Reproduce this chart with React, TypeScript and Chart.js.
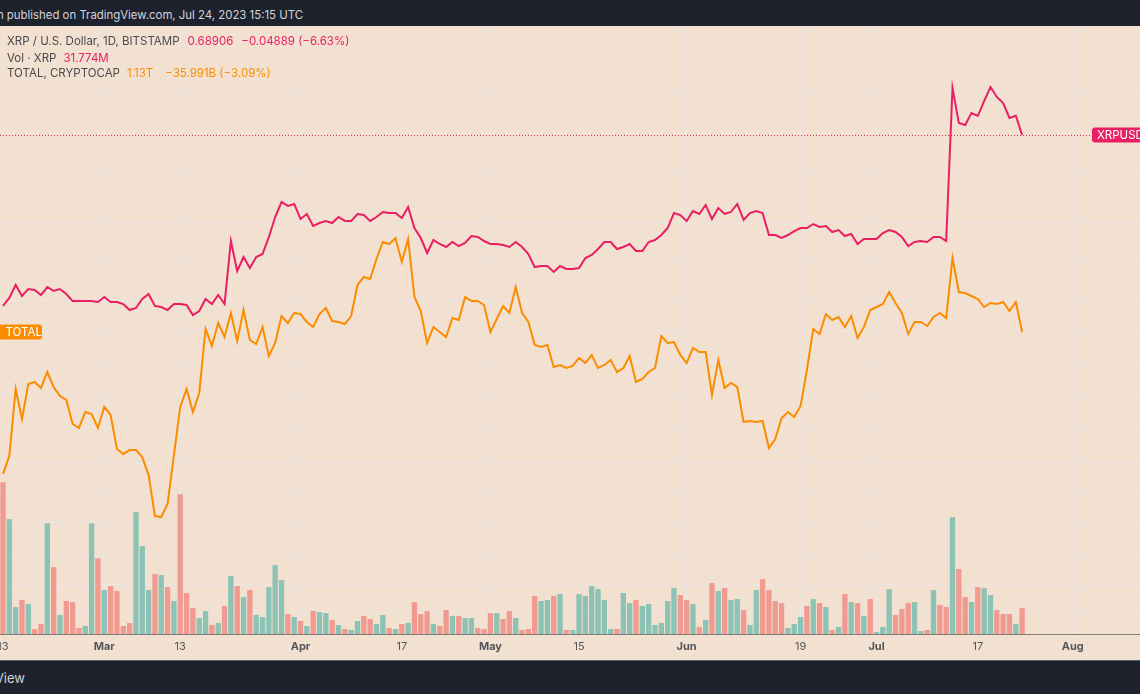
import React, { useEffect, useRef } from "react";
import { Chart, registerables } from "chart.js";

Chart.register(...registerables);

// Daily closes from 2023-02-13 (day 0) to 2023-07-24 (day 161)
const XRP_CLOSE = [
  0.3742, 0.3850, 0.4033, 0.3877, 0.3975, 0.3961, 0.3891, 0.4004, 0.3948, 0.3975,
  0.3905, 0.3808, 0.3808, 0.3808, 0.3808, 0.3795, 0.3863, 0.3795, 0.3795, 0.3768,
  0.3688, 0.3715, 0.3836, 0.3905, 0.3742, 0.3728, 0.3688, 0.3768, 0.3768, 0.3755,
  0.3623, 0.3675, 0.3836, 0.3768, 0.3891, 0.3768, 0.4719, 0.4240, 0.4457, 0.4285,
  0.4457, 0.4505, 0.4787, 0.5141, 0.5424, 0.5348, 0.5386, 0.5105, 0.5197, 0.4979,
  0.5032, 0.5069, 0.5032, 0.5141, 0.5069, 0.5069, 0.5197, 0.5178, 0.5069, 0.5141,
  0.5234, 0.5215, 0.5215, 0.5123, 0.5329, 0.4943, 0.4770, 0.4521, 0.4736, 0.4669,
  0.4619, 0.4702, 0.4635, 0.4686, 0.4804, 0.4787, 0.4719, 0.4669, 0.4669, 0.4652,
  0.4619, 0.4702, 0.4619, 0.4505, 0.4300, 0.4316, 0.4316, 0.4225, 0.4316, 0.4270,
  0.4270, 0.4285, 0.4441, 0.4489, 0.4586, 0.4702, 0.4702, 0.4586, 0.4619, 0.4669,
  0.4553, 0.4553, 0.4702, 0.4736, 0.4821, 0.4943, 0.5215, 0.5178, 0.5069, 0.5253,
  0.5197, 0.5366, 0.5105, 0.5309, 0.5197, 0.5234, 0.5386, 0.5087, 0.5215, 0.5253,
  0.5215, 0.4821, 0.4821, 0.4770, 0.4821, 0.4890, 0.4943, 0.4943, 0.5014, 0.4961,
  0.4979, 0.4873, 0.4908, 0.4804, 0.4839, 0.4669, 0.4753, 0.4753, 0.4753, 0.4856,
  0.4908, 0.4873, 0.4787, 0.4635, 0.4702, 0.4719, 0.4702, 0.4787, 0.4787, 0.4719,
  0.8150, 0.7192, 0.7141, 0.7454, 0.7374, 0.7780, 0.8179, 0.7893, 0.7725, 0.7322,
  0.73795, 0.68906,
];

// Total crypto market cap, trillions USD
const TOTAL_CAP = [
  0.9595, 0.9811, 1.0616, 1.0256, 1.0676, 1.0700, 1.0628, 1.0820, 1.0640, 1.0532,
  1.0484, 1.0196, 1.0148, 1.0340, 1.0316, 1.0148, 1.0400, 1.0304, 0.9895, 0.9835,
  0.9883, 0.9883, 0.9799, 0.9583, 0.9091, 0.9079, 0.9235, 0.9823, 1.0400, 1.0616,
  1.0340, 1.0568, 1.1336, 1.1132, 1.1408, 1.1240, 1.1528, 1.1192, 1.1564, 1.1204,
  1.1156, 1.1360, 1.1012, 1.1168, 1.1492, 1.1408, 1.1528, 1.1516, 1.1420, 1.1360,
  1.1516, 1.1588, 1.1432, 1.1420, 1.1396, 1.1492, 1.1864, 1.1960, 1.1936, 1.2176,
  1.2380, 1.2356, 1.2428, 1.2140, 1.2416, 1.1720, 1.1552, 1.1168, 1.1360, 1.1300,
  1.1240, 1.1468, 1.1444, 1.1720, 1.1672, 1.1672, 1.1624, 1.1300, 1.1456, 1.1612,
  1.1528, 1.1840, 1.1528, 1.1420, 1.1144, 1.1120, 1.1144, 1.0880, 1.0904, 1.0868,
  1.0892, 1.0988, 1.0928, 1.1024, 1.0868, 1.0904, 1.0964, 1.0820, 1.0868, 1.1012,
  1.0700, 1.0736, 1.0820, 1.0868, 1.1252, 1.1168, 1.1180, 1.1024, 1.0928, 1.1108,
  1.1060, 1.1060, 1.0544, 1.0964, 1.0628, 1.0688, 1.0640, 1.0220, 1.0232, 1.0220,
  1.0232, 0.9907, 1.0015, 1.0268, 1.0340, 1.0280, 1.0412, 1.0844, 1.1336, 1.1276,
  1.1516, 1.1444, 1.1480, 1.1360, 1.1492, 1.1228, 1.1360, 1.1564, 1.1600, 1.1636,
  1.1780, 1.1648, 1.1528, 1.1276, 1.1420, 1.1420, 1.1372, 1.1480, 1.1528, 1.1468,
  1.2188, 1.1780, 1.1768, 1.1732, 1.1696, 1.1600, 1.1648, 1.1636, 1.1660, 1.1552,
  1.1660, 1.1300,
];

// XRP volume, millions
const XRP_VOLUME = [
  185.4, 140.3, 32.9, 41.5, 36.6, 6.1, 12.2, 135.4, 81.7, 23.2,
  40.3, 39.0, 7.3, 9.8, 135.4, 92.7, 53.7, 58.6, 52.5, 9.8,
  13.4, 148.8, 107.4, 53.7, 73.2, 72.0, 57.3, 40.3, 170.8, 50.0,
  31.7, 19.5, 28.1, 11.0, 13.4, 34.2, 70.8, 58.6, 45.1, 53.7,
  23.2, 20.7, 57.3, 84.2, 65.9, 24.4, 20.7, 15.9, 9.8, 28.1,
  26.8, 25.6, 17.1, 11.0, 6.1, 4.9, 15.9, 22.0, 18.3, 12.2,
  23.2, 7.3, 6.1, 12.2, 13.4, 39.0, 24.4, 28.1, 12.2, 9.8,
  29.3, 22.0, 22.0, 19.5, 19.5, 7.3, 6.1, 25.6, 25.6, 18.3,
  28.1, 19.5, 4.9, 6.1, 46.4, 40.3, 41.5, 46.4, 48.8, 4.9,
  4.9, 48.8, 46.4, 58.6, 54.9, 41.5, 6.1, 6.1, 50.0, 37.8,
  41.5, 34.2, 36.6, 11.0, 13.4, 40.3, 56.1, 47.6, 41.5, 36.6,
  8.5, 17.1, 62.2, 52.5, 56.1, 41.5, 42.7, 29.3, 11.0, 53.7,
  67.1, 53.7, 40.3, 37.8, 7.3, 12.2, 20.7, 34.2, 42.7, 37.8,
  32.9, 4.9, 8.5, 48.8, 39.0, 37.8, 22.0, 42.7, 2.4, 8.5,
  54.9, 23.2, 30.5, 37.8, 39.0, 3.7, 4.9, 53.7, 35.4, 32.9,
  142.7, 79.3, 45.1, 39.0, 57.3, 56.1, 47.6, 29.3, 24.4, 24.4,
  12.2, 31.774,
];

// 1 = up day (green volume bar), 0 = down day (red)
const VOLUME_UP = [
  0, 1, 1, 0, 1, 0, 0, 1, 0, 1,
  0, 0, 0, 1, 1, 0, 1, 0, 0, 0,
  0, 1, 1, 1, 0, 1, 0, 1, 0, 0,
  0, 1, 1, 0, 1, 0, 1, 0, 1, 0,
  1, 1, 1, 1, 1, 0, 1, 0, 1, 0,
  1, 1, 0, 1, 0, 1, 1, 0, 0, 1,
  1, 0, 1, 0, 1, 0, 0, 0, 1, 0,
  0, 1, 0, 1, 1, 0, 0, 0, 1, 0,
  0, 1, 0, 0, 0, 1, 1, 0, 1, 0,
  1, 1, 1, 1, 1, 1, 1, 0, 1, 1,
  0, 1, 1, 1, 1, 1, 1, 0, 0, 1,
  0, 1, 0, 1, 0, 1, 1, 0, 1, 1,
  0, 0, 0, 0, 1, 1, 1, 0, 1, 0,
  1, 0, 1, 0, 1, 0, 1, 0, 1, 1,
  1, 0, 0, 0, 1, 1, 0, 1, 0, 0,
  1, 0, 0, 1, 0, 1, 1, 0, 0, 0,
  1, 0,
];

// x-axis ticks (day index from 2023-02-13) and their labels
const TICK_DAYS = [0, 16, 28, 47, 63, 77, 91, 108, 126, 138, 154, 169];
const TICK_LABELS = ["13", "Mar", "13", "Apr", "17", "May", "15", "Jun", "19", "Jul", "17", "Aug"];
const MONTH_LABELS = ["Mar", "Apr", "May", "Jun", "Jul", "Aug"];

// horizontal grid levels (on the TOTAL scale, trillions)
const GRID_LEVELS = [1.4157, 1.3197, 1.2597, 1.2164, 1.1684, 1.1312, 1.0928, 1.0556, 1.016, 0.9727, 0.9367, 0.9019, 0.8599, 0.8275, 0.7939];

const FONT = "Inter, 'Noto Sans', 'DejaVu Sans', sans-serif";
const BG = "#F2E1D1";
const DARK = "#1E222D";
const XRP_COLOR = "#E91E63";
const TOTAL_COLOR = "#FB8C00";
const UP_COLOR = "rgba(38,166,154,0.5)";
const DOWN_COLOR = "rgba(239,83,80,0.5)";
const GRID_COLOR = "rgba(232,232,236,0.6)";

const overlayPlugin = {
  id: "priceOverlay",
  beforeDatasetsDraw(chart: any) {
    const { ctx, chartArea, scales } = chart;
    const y = Math.round(scales.yXrp.getPixelForValue(XRP_CLOSE[XRP_CLOSE.length - 1])) + 0.5;
    ctx.save();
    ctx.strokeStyle = XRP_COLOR;
    ctx.lineWidth = 1;
    ctx.setLineDash([1, 2]);
    ctx.beginPath();
    ctx.moveTo(chartArea.left, y);
    ctx.lineTo(chartArea.right - 48, y);
    ctx.stroke();
    ctx.restore();
  },
  afterDatasetsDraw(chart: any) {
    const { ctx, chartArea, scales } = chart;
    ctx.save();
    ctx.font = `11.5px ${FONT}`;
    ctx.textBaseline = "middle";
    // XRPUSD label (right)
    const yX = scales.yXrp.getPixelForValue(XRP_CLOSE[XRP_CLOSE.length - 1]);
    const tx = "XRPUSD";
    const bx = chartArea.right - 48;
    ctx.fillStyle = XRP_COLOR;
    ctx.beginPath();
    ctx.roundRect(bx, yX - 7.5, 60, 15, 3);
    ctx.fill();
    ctx.fillStyle = "#FFFFFF";
    ctx.textAlign = "left";
    ctx.fillText(tx, bx + 5, yX + 0.5);
    // TOTAL label (left)
    const yT = scales.yTotal.getPixelForValue(TOTAL_CAP[TOTAL_CAP.length - 1]);
    const tt = "TOTAL";
    ctx.fillStyle = TOTAL_COLOR;
    ctx.beginPath();
    ctx.roundRect(chartArea.left - 4, yT - 7.5, 46, 15, 3);
    ctx.fill();
    ctx.fillStyle = "#FFFFFF";
    ctx.fillText(tt, chartArea.left + 5.5, yT + 0.5);
    ctx.restore();
  },
};

export default function App() {
  const canvasRef = useRef<HTMLCanvasElement | null>(null);

  useEffect(() => {
    const canvas = canvasRef.current;
    if (!canvas) return;
    const days = XRP_CLOSE.map((_, i) => i);
    const chart = new Chart(canvas, {
      type: "line",
      data: {
        datasets: [
          {
            type: "line",
            label: "XRPUSD",
            data: days.map((i) => ({ x: i, y: XRP_CLOSE[i] })),
            yAxisID: "yXrp",
            xAxisID: "x",
            borderColor: XRP_COLOR,
            borderWidth: 2,
            pointRadius: 0,
            tension: 0,
            order: 1,
          },
          {
            type: "line",
            label: "TOTAL",
            data: days.map((i) => ({ x: i, y: TOTAL_CAP[i] })),
            yAxisID: "yTotal",
            xAxisID: "x",
            borderColor: TOTAL_COLOR,
            borderWidth: 2,
            pointRadius: 0,
            tension: 0,
            order: 2,
          },
          {
            type: "bar",
            label: "Vol",
            data: days.map((i) => ({ x: i, y: XRP_VOLUME[i] })),
            yAxisID: "yVol",
            xAxisID: "x",
            backgroundColor: days.map((i) => (VOLUME_UP[i] ? UP_COLOR : DOWN_COLOR)),
            borderWidth: 0,
            barPercentage: 0.84,
            categoryPercentage: 1,
            order: 3,
          },
        ],
      } as any,
      options: {
        responsive: false,
        maintainAspectRatio: false,
        animation: false,
        events: [],
        layout: { padding: 0 },
        plugins: { legend: { display: false }, tooltip: { enabled: false } },
        scales: {
          x: {
            type: "linear",
            position: "bottom",
            min: -0.474,
            max: 179.62,
            offset: false,
            grid: { color: GRID_COLOR, drawTicks: false, offset: false },
            border: { display: true, color: "#7E7B78", width: 1 },
            ticks: {
              autoSkip: false,
              maxRotation: 0,
              minRotation: 0,
              padding: 6,
              color: "#55565B",
              font: (c: any) => {
                const idx = TICK_DAYS.indexOf(c.tick ? c.tick.value : -1);
                const lbl = idx >= 0 ? TICK_LABELS[idx] : "";
                return { family: FONT, size: 11, weight: MONTH_LABELS.includes(lbl) ? "bold" : "normal" };
              },
              callback: (v: any) => {
                const idx = TICK_DAYS.indexOf(Number(v));
                return idx >= 0 ? TICK_LABELS[idx] : "";
              },
            },
            afterBuildTicks: (s: any) => {
              s.ticks = TICK_DAYS.map((v) => ({ value: v }));
            },
            afterFit: (s: any) => {
              s.height = 26;
              s.paddingLeft = 0;
              s.paddingRight = 0;
            },
          },
          yTotal: {
            type: "linear",
            position: "left",
            min: 0.7675,
            max: 1.4973,
            grid: { color: GRID_COLOR, drawTicks: false },
            border: { display: false },
            ticks: { display: false },
            afterBuildTicks: (s: any) => {
              s.ticks = GRID_LEVELS.map((v) => ({ value: v }));
            },
            afterFit: (s: any) => {
              s.width = 0;
            },
          },
          yXrp: {
            type: "logarithmic",
            display: false,
            min: 0.11596,
            max: 1.017,
          },
          yVol: {
            type: "linear",
            display: false,
            min: 0,
            max: 743,
          },
        },
      } as any,
      plugins: [overlayPlugin],
    });
    return () => chart.destroy();
  }, []);

  const legendLine: React.CSSProperties = {
    position: "absolute",
    left: 7,
    fontSize: 11.5,
    lineHeight: "14px",
    color: "#4A4A4F",
    whiteSpace: "nowrap",
  };

  return (
    <div
      style={{
        position: "fixed",
        left: 0,
        top: 0,
        width: 1140,
        height: 694,
        background: BG,
        overflow: "hidden",
        fontFamily: FONT,
      }}
    >
      <div
        style={{
          position: "absolute",
          left: 0,
          top: 0,
          width: 1140,
          height: 26,
          background: DARK,
        }}
      >
        <div
          style={{
            position: "absolute",
            right: 1140 - 303,
            top: 0,
            lineHeight: "30px",
            fontSize: 11.4,
            color: "#D1D4DC",
            whiteSpace: "nowrap",
          }}
        >
          n published on TradingView.com, Jul 24, 2023 15:15 UTC
        </div>
      </div>
      <canvas
        ref={canvasRef}
        width={1140}
        height={634}
        style={{ position: "absolute", left: 0, top: 26, width: 1140, height: 634 }}
      />
      <div style={{ ...legendLine, top: 34 }}>
        XRP / U.S. Dollar, 1D, BITSTAMP
        <span style={{ color: XRP_COLOR, marginLeft: 8 }}>0.68906</span>
        <span style={{ color: XRP_COLOR, marginLeft: 8 }}>−0.04889 (−6.63%)</span>
      </div>
      <div style={{ ...legendLine, top: 51 }}>
        Vol · XRP
        <span style={{ color: XRP_COLOR, marginLeft: 7 }}>31.774M</span>
      </div>
      <div style={{ ...legendLine, top: 66 }}>
        TOTAL, CRYPTOCAP
        <span style={{ color: TOTAL_COLOR, marginLeft: 7 }}>1.13T</span>
        <span style={{ color: TOTAL_COLOR, marginLeft: 12 }}>−35.991B (−3.09%)</span>
      </div>
      <div
        style={{
          position: "absolute",
          left: 0,
          top: 660,
          width: 1140,
          height: 34,
          background: DARK,
          borderTop: "1px solid #5A5D66",
          boxSizing: "border-box",
        }}
      >
        <div
          style={{
            position: "absolute",
            right: 1140 - 25,
            top: 0,
            lineHeight: "34px",
            fontSize: 13,
            color: "#D1D4DC",
            whiteSpace: "nowrap",
          }}
        >
          TradingView
        </div>
      </div>
    </div>
  );
}
